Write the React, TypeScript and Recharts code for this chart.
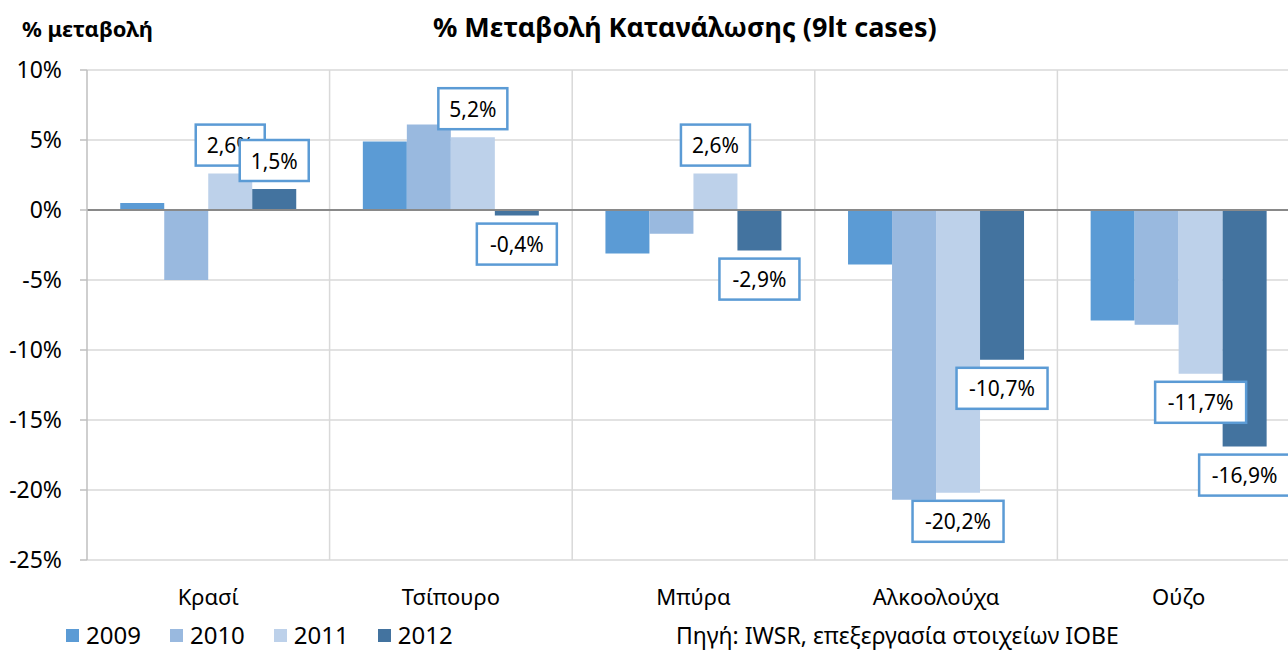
import React from 'react';
import { BarChart, Bar, XAxis, YAxis, CartesianGrid, ReferenceLine, LabelList } from 'recharts';

const categories = ['Κρασί', 'Τσίπουρο', 'Μπύρα', 'Αλκοολούχα', 'Ούζο'];
const v2009 = [0.5, 4.9, -3.1, -3.9, -7.9];
const v2010 = [-5.0, 6.1, -1.7, -20.7, -8.2];
const v2011 = [2.6, 5.2, 2.6, -20.2, -11.7];
const v2012 = [1.5, -0.4, -2.9, -10.7, -16.9];
const years = ['2009', '2010', '2011', '2012'];
const colors = ['#5B9BD5', '#99B9DF', '#BDD1EA', '#43739F'];
const yTicks = [10, 5, 0, -5, -10, -15, -20, -25];
const labelledYears = ['2011', '2012'];

const data = categories.map((c, i) => ({
  name: c,
  '2009': v2009[i],
  '2010': v2010[i],
  '2011': v2011[i],
  '2012': v2012[i],
}));

const FONT = '"Noto Sans", sans-serif';
const fmt = (v: number) => v.toFixed(1).replace('.', ',') + '%';

const BoxLabel = (props: any) => {
  const { x, y, width, height, value } = props;
  if (value === undefined || value === null) return null;
  const top = Math.min(y, y + height);
  const bottom = Math.max(y, y + height);
  const text = fmt(Number(value));
  const bw = 69 + (text.length - 4) * 11;
  const bh = 41;
  const cx = x + width / 2;
  const by = value >= 0 ? top - 8 - bh : bottom + 8;
  return (
    <g>
      <rect x={cx - bw / 2} y={by} width={bw} height={bh} fill="#FFFFFF" stroke="#5B9BD5" strokeWidth={2.5} />
      <text x={cx} y={by + bh / 2} textAnchor="middle" dominantBaseline="central" fontFamily={FONT} fontSize={21} fill="#000">
        {text}
      </text>
    </g>
  );
};

const vGen = ({ offset }: any) => {
  const n = categories.length;
  const out: number[] = [];
  for (let i = 1; i <= n; i++) out.push(offset.left + (i * offset.width) / n);
  return out;
};

export default function App() {
  return (
    <div style={{ position: 'absolute', left: 0, top: 0, width: 1288, height: 650, overflow: 'hidden', background: '#fff', fontFamily: FONT }}>
      <div style={{ position: 'absolute', left: 22, top: 13, fontSize: 22, fontWeight: 700, color: '#000', whiteSpace: 'nowrap' }}>% μεταβολή</div>
      <div style={{ position: 'absolute', left: 433, top: 8, fontSize: 27, fontWeight: 700, color: '#000', whiteSpace: 'nowrap' }}>
        % Μεταβολή Κατανάλωσης (9lt cases)
      </div>
      <div style={{ position: 'absolute', left: 0, top: 0 }}>
        <BarChart
          width={1320}
          height={650}
          data={data}
          margin={{ top: 70, right: 20, bottom: 40, left: 17 }}
          barCategoryGap="13.7%"
          barGap={0}
        >
          <CartesianGrid stroke="#D9D9D9" strokeWidth={1.5} verticalCoordinatesGenerator={vGen} />
          <XAxis xAxisId="a" dataKey="name" axisLine={false} tickLine={false} height={50} tickMargin={23}
            tick={{ fontFamily: FONT, fontSize: 22, fill: '#000' }} interval={0} />
          <XAxis xAxisId="b" dataKey="name" hide />
          <YAxis domain={[-25, 10]} ticks={yTicks} interval={0} width={70} allowDataOverflow
            tickFormatter={(v: number) => v + '%'} axisLine={{ stroke: '#BFBFBF', strokeWidth: 1.5 }}
            tickLine={{ stroke: '#BFBFBF', strokeWidth: 1.5 }} tickSize={7} tickMargin={18}
            tick={{ fontFamily: FONT, fontSize: 23, fill: '#000' }} />
          {years.map((yr, i) => (
            <Bar key={yr} xAxisId="a" dataKey={yr} fill={colors[i]} isAnimationActive={false} />
          ))}
          <ReferenceLine xAxisId="a" y={0} stroke="#898989" strokeWidth={2} />
          {years.map((yr) => (
            <Bar key={'lbl' + yr} xAxisId="b" dataKey={yr} fill="transparent" fillOpacity={0} isAnimationActive={false} legendType="none">
              {labelledYears.includes(yr) ? <LabelList dataKey={yr} content={BoxLabel} /> : null}
            </Bar>
          ))}
        </BarChart>
      </div>
      <div style={{ position: 'absolute', left: 66, top: 621, display: 'flex', alignItems: 'center', fontSize: 24, lineHeight: '28px', color: '#000' }}>
        {years.map((yr, i) => (
          <div key={yr} style={{ display: 'flex', alignItems: 'center', marginRight: 29 }}>
            <div style={{ width: 13, height: 13, background: colors[i], marginRight: 7 }} />
            <span>{yr}</span>
          </div>
        ))}
      </div>
      <div style={{ position: 'absolute', left: 676, top: 622, fontSize: 23, lineHeight: '27px', color: '#000', whiteSpace: 'nowrap' }}>
        Πηγή: IWSR, επεξεργασία στοιχείων IOBE
      </div>
    </div>
  );
}
